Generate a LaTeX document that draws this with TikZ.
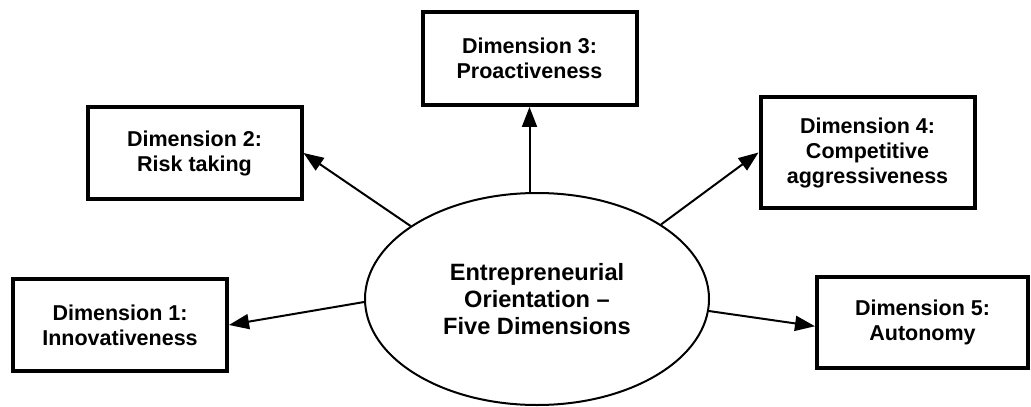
\documentclass[tikz,border=0pt]{standalone}
\usepackage{fontspec}
\setmainfont{Liberation Sans}
\usetikzlibrary{arrows.meta,shapes.geometric}
\begin{document}
\begin{tikzpicture}[x=0.5pt,y=-0.5pt,
    dimbox/.style={draw, line width=2pt, minimum width=107pt, minimum height=46pt, align=center, inner sep=2pt, font=\fontsize{10.75}{12.5}\selectfont\bfseries},
    link/.style={-{Triangle[length=10pt,width=7.5pt]}, line width=1pt}]
    \useasboundingbox (0,0) rectangle (1031,406);
    % centre
    \node[ellipse, draw, line width=1pt, minimum width=172pt, minimum height=106pt, align=center, font=\fontsize{11.8}{13.5}\selectfont\bfseries] (eo) at (537,299) {Entrepreneurial\\Orientation –\\Five Dimensions};
    % dimensions
    \node[dimbox] (d1) at (120,325) {Dimension 1:\\Innovativeness};
    \node[dimbox] (d2) at (194.5,153) {Dimension 2:\\Risk taking};
    \node[dimbox, minimum height=46.5pt] (d3) at (529.5,58.5) {Dimension 3:\\Proactiveness};
    \node[dimbox, minimum height=55.5pt] (d4) at (867.5,152.5) {Dimension 4:\\Competitive\\aggressiveness};
    \node[dimbox, minimum width=105.5pt, minimum height=45.5pt] (d5) at (922.5,322.5) {Dimension 5:\\Autonomy};
    % arrows
    \draw[link] (eo.181) -- (d1.east);
    \draw[link] (eo.150) -- (d2.east);
    \draw[link] (d3.south |- eo.north) -- (d3.south);
    \draw[link] (eo.31) -- (d4.west);
    \draw[link] (eo.356) -- (d5.182);
\end{tikzpicture}
\end{document}
